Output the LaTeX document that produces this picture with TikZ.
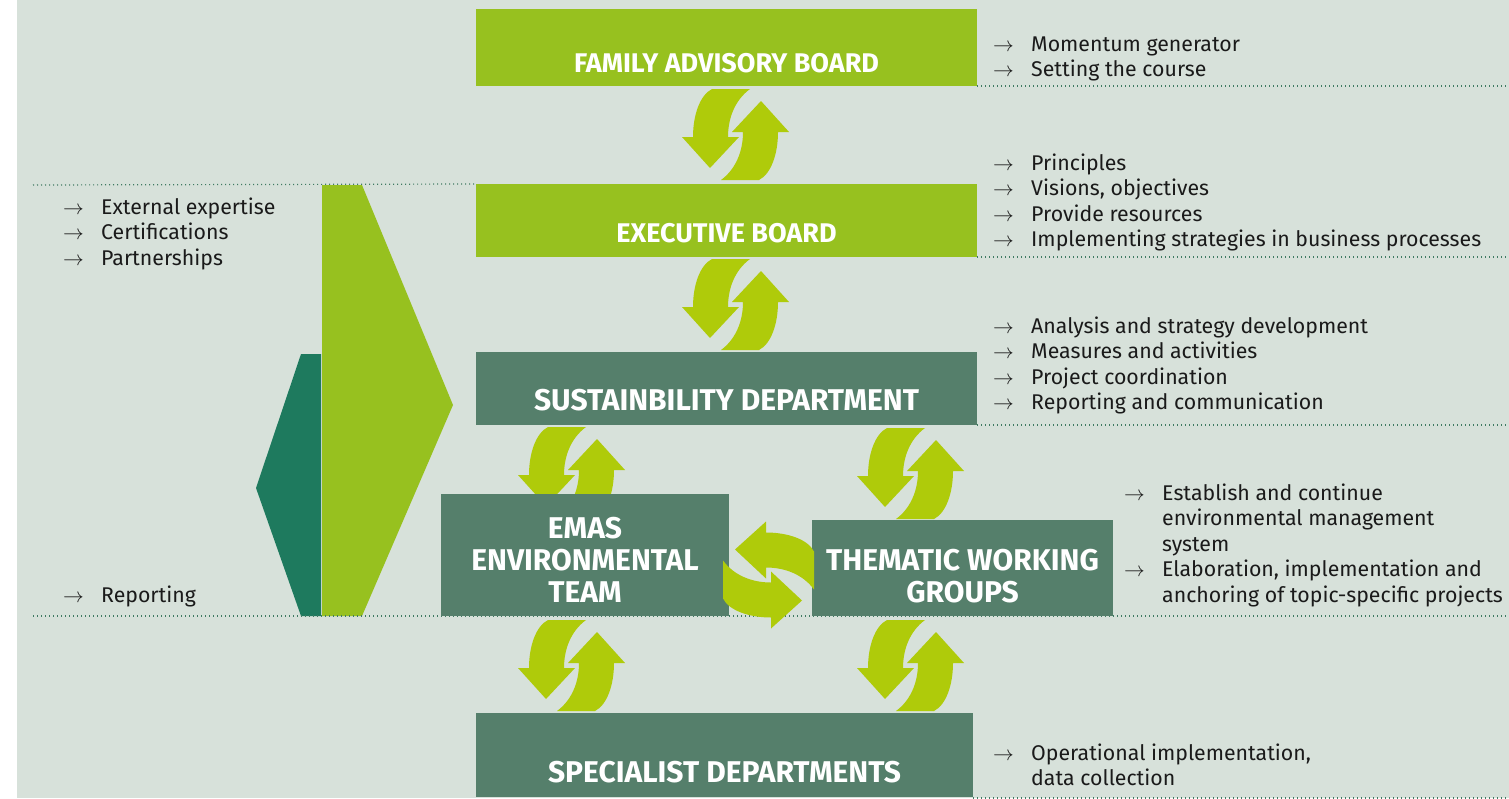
\documentclass[tikz,border=0pt]{standalone}
\usepackage{fontspec}
\setmainfont{Fira Sans}
\definecolor{bgcol}{HTML}{D7E1DA}
\definecolor{lightgreen}{HTML}{97C11F}
\definecolor{arrowgreen}{HTML}{AFCB0A}
\definecolor{darkbox}{HTML}{557F6B}
\definecolor{deepgreen}{HTML}{1E7A5E}
\definecolor{dotcol}{HTML}{3F7A62}
\definecolor{txtcol}{HTML}{1A1A1A}
\newcommand{\listarrow}{\makebox[38pt][l]{$\rightarrow$}}
\newcommand{\listindent}{\hspace*{38pt}}
\newcommand{\halfarrowpath}{(-23.5,-45.5) -- (14.5,-45.5)
      .. controls (-0.5,-34.5) and (-7.5,-16.5) .. (-7.5,2.5)
      -- (3.5,2.5) -- (-25.5,33.5) -- (-53.5,2.5) -- (-42.5,2.5)
      .. controls (-42.5,-19.5) and (-35.5,-39.5) .. (-23.5,-45.5) -- cycle}
\tikzset{
  swaparrows/.pic={
    \fill[arrowgreen] \halfarrowpath;
    \fill[arrowgreen, rotate=180] \halfarrowpath;
  },
  boxnode/.style={inner sep=0pt, outer sep=0pt, minimum width=#1},
  lightbox/.style={boxnode=501pt, fill=lightgreen},
  darkbox/.style={fill=darkbox, inner sep=0pt, outer sep=0pt},
  boxtext/.style={text=white, font=\fontsize{30}{32}\selectfont\bfseries, align=center, inner sep=0pt, anchor=base},
  lighttext/.style={boxtext, font=\fontsize{27}{32}\selectfont\bfseries},
  listtext/.style={text=txtcol, font=\fontsize{21.3}{25.5}\selectfont, align=left, inner sep=0pt, anchor=base west},
  dotline/.style={dotcol, line width=1.2pt, dash pattern=on 1.2pt off 2.8pt}
}
\begin{document}
\begin{tikzpicture}[x=1pt, y=-1pt]
        \useasboundingbox (0,0) rectangle (1509,798);
        \fill[white] (0,0) rectangle (1509,798);
        \fill[bgcol] (17,0) rectangle (1509,798);
        \coordinate (re) at (1509,0);
        \coordinate (lt) at (33,185);
        \coordinate (lb) at (33,616);
        % left wedges
        \fill[deepgreen] (321,354) -- (301,354) -- (256,488) -- (301,616) -- (321,616) -- cycle;
        \fill[lightgreen] (322,185) -- (362,185) -- (453,405) -- (362,616) -- (322,616) -- cycle;
        % dotted rules
        \draw[dotline] (lb) -- (lb -| re);
        % arrows behind the boxes
        \pic at (571.5,472.5) {swaparrows};
        \pic at (910.5,473.5) {swaparrows};
        % boxes
        \node[lightbox, minimum height=77pt] (fab) at (726.5,47.5) {};
        \node[lightbox, minimum height=73pt] (eb) at (726.5,220.5) {};
        \node[darkbox, minimum width=501pt, minimum height=73pt] (sd) at (726.5,388.5) {};
        \node[darkbox, minimum width=288pt, minimum height=122pt] (emas) at (585,555) {};
        \node[darkbox, minimum width=301pt, minimum height=96pt] (twg) at (962.5,568) {};
        \node[darkbox, minimum width=497pt, minimum height=84pt] (spec) at (724.5,755) {};
        \draw[dotline] (fab.south east) -- (fab.south east -| re);
        \draw[dotline] (lt) -- (eb.north west);
        \draw[dotline] (eb.south east) -- (eb.south east -| re);
        \draw[dotline] (sd.south east) -- (sd.south east -| re);
        \draw[dotline] ([yshift=-1pt]spec.south east) -- ([yshift=-1pt]spec.south east -| re);
        % box labels (base = last line)
        \node[lighttext] (fabt) at (726.5,72.5) {FAMILY ADVISORY BOARD};
        \node[lighttext] (ebt) at (726.5,242.5) {EXECUTIVE BOARD};
        \node[boxtext] (sdt) at (726.5,410) {SUSTAINBILITY DEPARTMENT};
        \node[boxtext] (emast) at (585,602) {EMAS\\ENVIRONMENTAL\\TEAM};
        \node[boxtext] (twgt) at (962.5,602) {THEMATIC WORKING\\GROUPS};
        \node[boxtext] (spect) at (724.5,782) {SPECIALIST DEPARTMENTS};
        % swap arrows
        \pic at (735.5,134.5) {swaparrows};
        \pic at (735.5,304.5) {swaparrows};
        \pic at (571.5,665.5) {swaparrows};
        \pic at (910.5,665.5) {swaparrows};
        \pic[rotate=-90] at (768.5,575) {swaparrows};
        % lists (base = last line)
        \node[listtext] (fabl) at (993,76.5) {\listarrow Momentum generator\\\listarrow Setting the course};
        \node[listtext] (ebl) at (993,246.5) {\listarrow Principles\\\listarrow Visions, objectives\\\listarrow Provide resources\\\listarrow Implementing strategies in business processes};
        \node[listtext] (sdl) at (993,409.5) {\listarrow Analysis and strategy development\\\listarrow Measures and activities\\\listarrow Project coordination\\\listarrow Reporting and communication};
        \node[listtext] (twgl) at (1124,602) {\listarrow Establish and continue\\\listindent environmental management\\\listindent system\\\listarrow Elaboration, implementation and\\\listindent anchoring of topic-specific projects};
        \node[listtext] (specl) at (993,785.5) {\listarrow Operational implementation,\\\listindent data collection};
        \node[listtext] (extl) at (63,265) {\listarrow External expertise\\\listarrow Certifications\\\listarrow Partnerships};
        \node[listtext] (repl) at (63,602) {\listarrow Reporting};
      \end{tikzpicture}
\end{document}
